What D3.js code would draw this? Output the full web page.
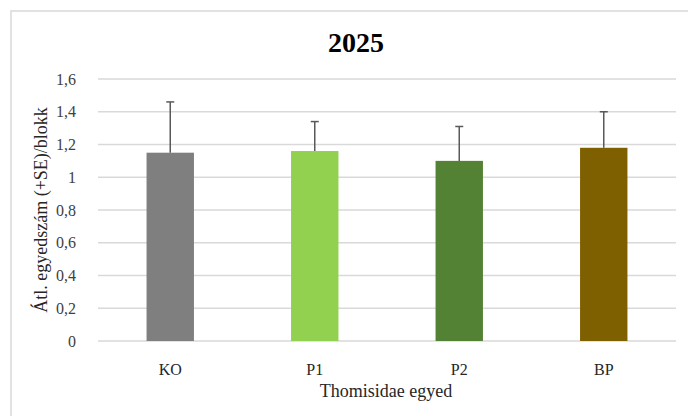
<!DOCTYPE html>
<html>
<head>
<meta charset="utf-8">
<script src="https://cdn.jsdelivr.net/npm/d3@7"></script>
<style>
  body { margin: 0; background: #fff; }
  svg { display: block; font-family: "Liberation Serif", "Times New Roman", serif; }
</style>
</head>
<body>
<svg></svg>
<script>
var width = 688,
  height = 416;

// Data
var categories = ["KO", "P1", "P2", "BP"];
var means = [1.15, 1.16, 1.10, 1.18];
var se = [0.31, 0.18, 0.21, 0.22];
var barColors = ["#7f7f7f", "#92d050", "#548235", "#7f6000"];
var yTicks = [0, 0.2, 0.4, 0.6, 0.8, 1, 1.2, 1.4, 1.6];

var svg = d3.select("svg")
  .attr("width", width)
  .attr("height", height);

// Chart border
svg.append("rect")
  .attr("x", 11)
  .attr("y", 11)
  .attr("width", 700)
  .attr("height", 420)
  .style("fill", "none")
  .style("stroke", "#d9d9d9")
  .style("stroke-width", 1.5);

var margin = {left: 98, right: 12, top: 79, bottom: 75};

var x = d3.scaleBand()
  .domain(categories)
  .range([margin.left, width - margin.right])
  .paddingInner(0.672)
  .paddingOuter(0.336);

var y = d3.scaleLinear()
  .domain([0, 1.6])
  .range([height - margin.bottom, margin.top]);

var fmt = function(d) { return String(d).replace(".", ","); };

// Gridlines
svg.append("g")
  .attr("class", "grid")
  .selectAll("line")
  .data(yTicks)
  .enter().append("line")
  .attr("x1", margin.left)
  .attr("x2", width - margin.right)
  .attr("y1", function(d) { return y(d); })
  .attr("y2", function(d) { return y(d); })
  .style("stroke", "#d9d9d9")
  .style("stroke-width", 1.5);

// Y axis labels
var yAxis = svg.append("g")
  .attr("transform", "translate(" + (margin.left - 22) + ",0)")
  .call(d3.axisLeft(y).tickValues(yTicks).tickFormat(fmt).tickSize(0).tickPadding(0));
yAxis.select(".domain").remove();
yAxis.selectAll("text")
  .style("font-family", "Liberation Serif, serif")
  .style("font-size", "16px")
  .style("fill", "#404040");

// Bars
svg.append("g")
  .selectAll("rect")
  .data(categories)
  .enter().append("rect")
  .attr("x", function(d) { return x(d); })
  .attr("width", x.bandwidth())
  .attr("y", function(d, i) { return y(means[i]); })
  .attr("height", function(d, i) { return y(0) - y(means[i]); })
  .style("fill", function(d, i) { return barColors[i]; });

// Error bars (+SE only)
var err = svg.append("g")
  .selectAll("g")
  .data(categories)
  .enter().append("g");

err.append("line")
  .attr("x1", function(d) { return x(d) + x.bandwidth() / 2; })
  .attr("x2", function(d) { return x(d) + x.bandwidth() / 2; })
  .attr("y1", function(d, i) { return y(means[i]); })
  .attr("y2", function(d, i) { return y(means[i] + se[i]); })
  .style("stroke", "#595959")
  .style("stroke-width", 1.5);

err.append("line")
  .attr("x1", function(d) { return x(d) + x.bandwidth() / 2 - 4; })
  .attr("x2", function(d) { return x(d) + x.bandwidth() / 2 + 4; })
  .attr("y1", function(d, i) { return y(means[i] + se[i]); })
  .attr("y2", function(d, i) { return y(means[i] + se[i]); })
  .style("stroke", "#595959")
  .style("stroke-width", 1.5);

// X axis labels
var xAxis = svg.append("g")
  .attr("transform", "translate(0," + (y(0) + 23) + ")")
  .call(d3.axisBottom(x).tickSize(0).tickPadding(0));
xAxis.select(".domain").remove();
xAxis.selectAll("text")
  .style("font-family", "Liberation Serif, serif")
  .style("font-size", "16px")
  .style("fill", "#262626");

// Title
svg.append("text")
  .attr("x", 356)
  .attr("y", 52)
  .attr("text-anchor", "middle")
  .style("font-size", "28px")
  .style("font-weight", "bold")
  .style("fill", "#000")
  .text("2025");

// Axis titles
svg.append("text")
  .attr("x", 386)
  .attr("y", 397)
  .attr("text-anchor", "middle")
  .style("font-size", "18px")
  .style("fill", "#262626")
  .text("Thomisidae egyed");

svg.append("text")
  .attr("transform", "translate(47," + ((y(0) + y(1.6)) / 2) + ") rotate(-90)")
  .attr("text-anchor", "middle")
  .style("font-size", "18px")
  .style("fill", "#262626")
  .text("Átl. egyedszám (+SE)/blokk");
</script>
</body>
</html>
